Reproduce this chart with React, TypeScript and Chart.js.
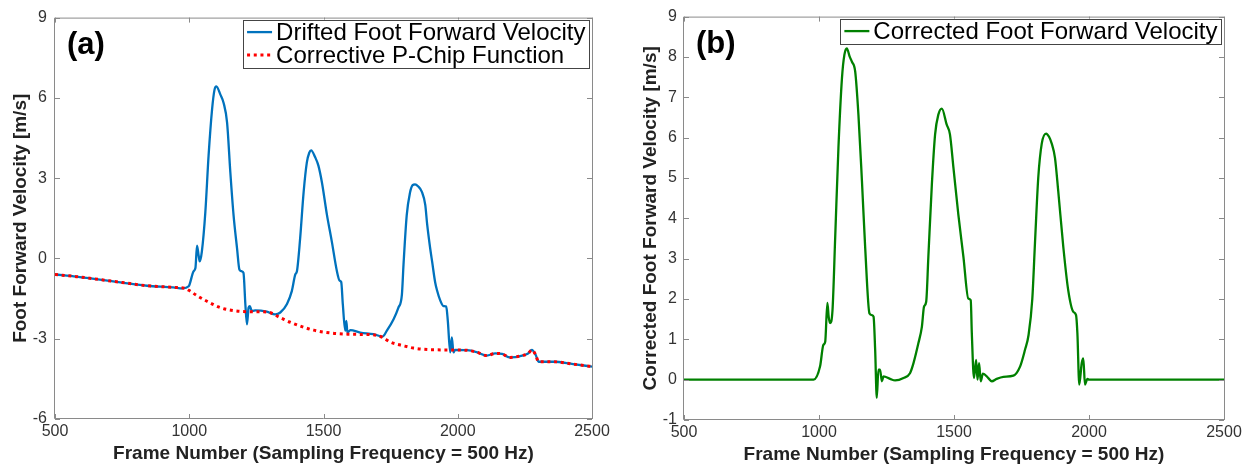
import React, { useEffect, useRef } from "react";
import { Chart, registerables } from "chart.js";

Chart.register(...registerables);

// ---------- tick values ----------
const xTicks = [500, 1000, 1500, 2000, 2500];
const leftYTicks = [-6, -3, 0, 3, 6, 9];
const rightYTicks = [-1, 0, 1, 2, 3, 4, 5, 6, 7, 8, 9];

// ---------- (a) drifted foot forward velocity ----------
const driftFrames = [
  500, 580, 660, 750, 843, 940, 975, 998, 1016, 1023, 1029, 1035, 1039, 1047, 1060, 1072, 1085, 1094,
  1101, 1116, 1128, 1141, 1153, 1165, 1178, 1187, 1196, 1202, 1209, 1215, 1221, 1226, 1230, 1236, 1246,
  1289, 1320, 1339, 1364, 1382, 1395, 1401, 1413, 1426, 1438, 1447, 1454, 1469, 1481, 1494, 1513, 1531,
  1550, 1560, 1566, 1572, 1581, 1585, 1589, 1600, 1637, 1686, 1720, 1736, 1761, 1779, 1792, 1798, 1810,
  1822, 1832, 1841, 1852, 1866, 1879, 1886, 1897, 1905, 1916, 1923, 1934, 1947, 1957, 1963, 1972, 1978,
  1984, 1990, 2034, 2070, 2108, 2140, 2165, 2195, 2240, 2262, 2276, 2290, 2301, 2357, 2430, 2500,
];
const driftValues = [
  -0.6, -0.68, -0.78, -0.9, -1.02, -1.08, -1.12, -1.04, -0.48, -0.36, 0.48, 0.1, -0.11, 0.26, 1.74, 3.84, 5.57, 6.3,
  6.43, 6.12, 5.81, 5.07, 3.22, 1.62, 0.38, -0.42, -0.48, -0.54, -1.72, -2.46, -1.84, -1.78, -1.9, -1.96, -1.94,
  -1.99, -2.09, -2.02, -1.7, -1.22, -0.6, -0.48, 0.75, 2.48, 3.59, 3.95, 4.04, 3.78, 3.47, 2.85, 1.62, 0.63,
  -0.48, -0.83, -0.88, -1.72, -2.7, -2.33, -2.77, -2.68, -2.77, -2.83, -2.92, -2.7, -2.27, -1.84, -1.35, -0.23, 1.62,
  2.45, 2.74, 2.77, 2.7, 2.5, 2.0, 1.28, 0.4, -0.15, -0.9, -1.2, -1.55, -1.78, -1.8, -2.33, -3.51, -2.95,
  -3.51, -3.42, -3.43, -3.5, -3.63, -3.55, -3.57, -3.7, -3.63, -3.55, -3.42, -3.6, -3.86, -3.86, -3.95, -4.04,
];

// ---------- (a) corrective P-Chip function ----------
const pchipFrames = [
  500, 580, 660, 750, 843, 940, 985, 1000, 1030, 1066, 1116, 1165, 1215, 1290, 1340, 1380, 1463, 1530,
  1590, 1640, 1690, 1720, 1748, 1800, 1835, 1900, 1975, 2030, 2070, 2108, 2140, 2165, 2195, 2240, 2262,
  2276, 2290, 2301, 2357, 2430, 2500,
];
const pchipValues = [
  -0.6, -0.68, -0.78, -0.9, -1.02, -1.08, -1.12, -1.2, -1.4, -1.6, -1.84, -1.95, -1.99, -2.0, -2.22, -2.4, -2.68, -2.79,
  -2.83, -2.84, -2.86, -2.95, -3.12, -3.27, -3.35, -3.41, -3.42, -3.43, -3.5, -3.63, -3.55, -3.57, -3.7, -3.63, -3.55,
  -3.42, -3.6, -3.86, -3.86, -3.95, -4.04,
];

// ---------- (b) corrected foot forward velocity ----------
const correctedFrames = [
  500, 980, 1004, 1016, 1023, 1031, 1036, 1041, 1050, 1060, 1072, 1085, 1094, 1103, 1114, 1122, 1134, 1146,
  1159, 1171, 1187, 1196, 1202, 1208, 1214, 1220, 1226, 1233, 1239, 1263, 1282, 1313, 1337, 1350, 1368,
  1381, 1389, 1397, 1405, 1418, 1430, 1442, 1455, 1473, 1485, 1498, 1516, 1535, 1553, 1562, 1566, 1574,
  1582, 1587, 1593, 1599, 1607, 1627, 1640, 1658, 1683, 1720, 1745, 1763, 1776, 1790, 1800, 1812, 1825,
  1841, 1852, 1862, 1874, 1886, 1905, 1923, 1942, 1952, 1957, 1964, 1973, 1979, 1985, 1994, 2000, 2500,
];
const correctedValues = [
  0, 0, 0.33, 0.86, 0.94, 1.9, 1.55, 1.4, 1.72, 3.53, 5.75, 7.47, 8.05, 8.21, 8.0, 7.88, 7.64, 6.57,
  4.93, 3.28, 1.64, 1.6, 1.56, 0.74, -0.45, 0.25, 0.25, -0.04, 0.08, 0.02, -0.02, 0.04, 0.16, 0.41, 0.9,
  1.31, 1.81, 1.93, 3.04, 4.84, 6.08, 6.57, 6.72, 6.32, 6.08, 5.25, 4.1, 3.04, 2.01, 1.97, 1.15, 0.04,
  0.49, 0.0, 0.41, -0.04, 0.15, 0.04, -0.04, 0.02, 0.07, 0.1, 0.33, 0.74, 1.1, 2.0, 3.4, 5.0, 5.85,
  6.1, 6.02, 5.85, 5.5, 4.68, 3.28, 2.22, 1.68, 1.6, 1.15, -0.12, 0.41, 0.53, -0.12, 0.02, 0, 0,
];

const FONT = '"Liberation Sans", Arial, Helvetica, sans-serif';
const BOX_COLOR = "#8a8a8a";

const toPoints = (xs: number[], ys: number[]) => xs.map((x, i) => ({ x, y: ys[i] }));

// draws the MATLAB-like box with inward ticks on all four sides
const boxPlugin = {
  id: "matlabBox",
  afterDatasetsDraw(chart: any, _args: any, opts: any) {
    const { ctx, chartArea: a, scales } = chart;
    const xs = scales.x;
    const ys = scales.y;
    const len = 5;
    ctx.save();
    ctx.strokeStyle = BOX_COLOR;
    ctx.lineWidth = 1;
    ctx.beginPath();
    ctx.rect(a.left - 0.5, a.top + 0.5, a.right - a.left + 1, a.bottom - a.top - 1);
    for (const v of opts.xTicks as number[]) {
      const px = Math.round(xs.getPixelForValue(v)) + 0.5;
      ctx.moveTo(px, a.bottom);
      ctx.lineTo(px, a.bottom - len);
      ctx.moveTo(px, a.top);
      ctx.lineTo(px, a.top + len);
    }
    for (const v of opts.yTicks as number[]) {
      const py = Math.round(ys.getPixelForValue(v)) + 0.5;
      ctx.moveTo(a.left, py);
      ctx.lineTo(a.left + len, py);
      ctx.moveTo(a.right, py);
      ctx.lineTo(a.right - len, py);
    }
    ctx.stroke();
    ctx.restore();
  },
};

// legend box in the upper right plus the panel label
const legendPlugin = {
  id: "matlabLegend",
  afterDraw(chart: any, _args: any, opts: any) {
    const { ctx, chartArea: a } = chart;
    const ds = chart.data.datasets;
    const rowH = 23;
    const fontSize = 24;
    ctx.save();
    ctx.font = `${fontSize}px ${FONT}`;
    let textW = 0;
    for (const d of ds) textW = Math.max(textW, ctx.measureText(d.label).width);
    const sample = 25;
    const right = a.right - 2.5;
    const left = right - (4 + sample + 4 + textW + 4);
    const top = a.top + 2;
    const h = ds.length * rowH + 2;
    ctx.fillStyle = "#fff";
    ctx.fillRect(left, top, right - left, h);
    ctx.strokeStyle = "#444";
    ctx.lineWidth = 1;
    ctx.strokeRect(Math.round(left) + 0.5, Math.round(top) + 0.5, Math.round(right - left), Math.round(h));
    ds.forEach((d: any, i: number) => {
      const cy = top + 12.5 + i * rowH;
      ctx.save();
      ctx.strokeStyle = d.borderColor;
      ctx.lineWidth = d.borderWidth;
      ctx.setLineDash(d.borderDash || []);
      ctx.beginPath();
      ctx.moveTo(left + 4, cy);
      ctx.lineTo(left + 4 + sample, cy);
      ctx.stroke();
      ctx.restore();
      ctx.fillStyle = "#000";
      ctx.textBaseline = "middle";
      ctx.textAlign = "left";
      ctx.fillText(d.label, left + 4 + sample + 4, cy + 1);
    });
    // panel label
    ctx.font = `bold 31px ${FONT}`;
    ctx.fillStyle = "#000";
    ctx.textBaseline = "middle";
    ctx.textAlign = "left";
    ctx.fillText(opts.panel, a.left + 12, a.top + 28);
    ctx.restore();
  },
};

type PanelCfg = {
  datasets: any[];
  yTicks: number[];
  yMin: number;
  yMax: number;
  yTitle: string;
  panel: string;
  yAxisWidth: number;
  xAxisHeight: number;
  padRight: number;
  yTitlePad: number;
  yTickPad: number;
  xTickPad: number;
  xTitlePad: number;
};

function buildConfig(c: PanelCfg): any {
  return {
    type: "line",
    data: { datasets: c.datasets },
    plugins: [boxPlugin, legendPlugin],
    options: {
      animation: false,
      responsive: false,
      devicePixelRatio: 1,
      events: [],
      layout: { padding: { top: 14, right: c.padRight, bottom: 0, left: 0 } },
      elements: { point: { radius: 0 } },
      plugins: {
        legend: { display: false },
        tooltip: { enabled: false },
        matlabBox: { xTicks, yTicks: c.yTicks },
        matlabLegend: { panel: c.panel },
      },
      scales: {
        x: {
          type: "linear",
          min: 500,
          max: 2500,
          afterBuildTicks: (s: any) => {
            s.ticks = xTicks.map((v) => ({ value: v }));
          },
          afterFit: (s: any) => {
            s.height = c.xAxisHeight;
          },
          grid: { display: false, drawTicks: false },
          border: { display: false },
          ticks: {
            padding: c.xTickPad,
            color: "#333",
            font: { family: FONT, size: 16 },
            maxRotation: 0,
            autoSkip: false,
            callback: (v: any) => String(v),
          },
          title: {
            display: true,
            text: "Frame Number (Sampling Frequency = 500 Hz)",
            color: "#222",
            font: { family: FONT, size: 19, weight: "bold" },
            padding: { top: 0, bottom: c.xTitlePad },
          },
        },
        y: {
          type: "linear",
          min: c.yMin,
          max: c.yMax,
          afterBuildTicks: (s: any) => {
            s.ticks = c.yTicks.map((v) => ({ value: v }));
          },
          afterFit: (s: any) => {
            s.width = c.yAxisWidth;
          },
          grid: { display: false, drawTicks: false },
          border: { display: false },
          ticks: {
            padding: c.yTickPad,
            color: "#333",
            font: { family: FONT, size: 16 },
            autoSkip: false,
            callback: (v: any) => String(v),
          },
          title: {
            display: true,
            text: c.yTitle,
            color: "#222",
            font: { family: FONT, size: 19, weight: "bold" },
            padding: { top: c.yTitlePad, bottom: 0 },
          },
        },
      },
    },
  };
}

function Panel(props: { cfg: PanelCfg; left: number; width: number }) {
  const ref = useRef<HTMLCanvasElement | null>(null);
  useEffect(() => {
    if (!ref.current) return;
    const chart = new Chart(ref.current, buildConfig(props.cfg));
    return () => chart.destroy();
  }, []);
  return (
    <canvas
      ref={ref}
      width={props.width}
      height={472}
      style={{ position: "absolute", left: props.left, top: 0, width: props.width, height: 472, display: "block" }}
    />
  );
}

const panelA: PanelCfg = {
  datasets: [
    {
      label: "Drifted Foot Forward Velocity",
      data: toPoints(driftFrames, driftValues),
      borderColor: "#0072BD",
      borderWidth: 2.3,
      cubicInterpolationMode: "monotone",
      order: 1,
    },
    {
      label: "Corrective P-Chip Function",
      data: toPoints(pchipFrames, pchipValues),
      borderColor: "#FF0000",
      borderWidth: 3,
      borderDash: [3, 3.7],
      borderCapStyle: "butt",
      cubicInterpolationMode: "monotone",
      order: 0,
    },
  ],
  yTicks: leftYTicks,
  yMin: -6,
  yMax: 9,
  yTitle: "Foot Forward Velocity [m/s]",
  panel: "(a)",
  yAxisWidth: 55,
  xAxisHeight: 53,
  padRight: 35,
  yTitlePad: 9.6,
  yTickPad: 8,
  xTickPad: 3,
  xTitlePad: 6.6,
};

const panelB: PanelCfg = {
  datasets: [
    {
      label: "Corrected Foot Forward Velocity",
      data: toPoints(correctedFrames, correctedValues),
      borderColor: "#008000",
      borderWidth: 2.3,
      cubicInterpolationMode: "monotone",
    },
  ],
  yTicks: rightYTicks,
  yMin: -1,
  yMax: 9,
  yTitle: "Corrected Foot Forward Velocity [m/s]",
  panel: "(b)",
  yAxisWidth: 57,
  xAxisHeight: 52,
  padRight: 31,
  yTitlePad: 12.6,
  yTickPad: 7,
  xTickPad: 3.4,
  xTitlePad: 5.6,
};

export default function App() {
  return (
    <div style={{ position: "absolute", left: 0, top: 0, width: 1255, height: 472, background: "#fff" }}>
      <Panel cfg={panelA} left={0} width={627} />
      <Panel cfg={panelB} left={627} width={628} />
    </div>
  );
}
